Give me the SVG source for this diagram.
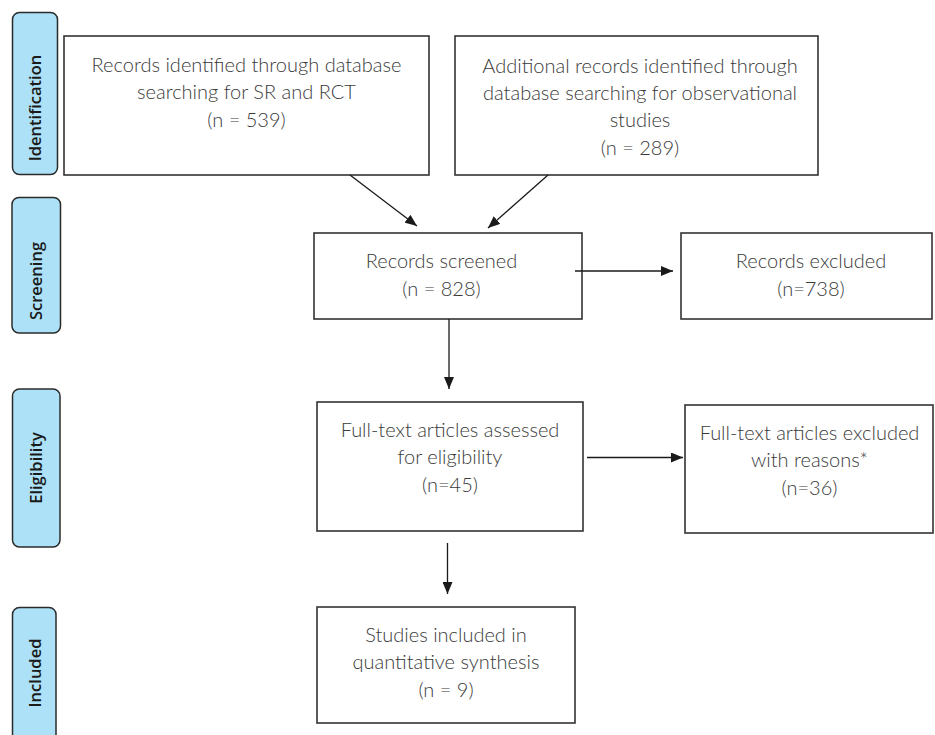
<svg xmlns="http://www.w3.org/2000/svg" width="935" height="735" viewBox="0 0 935 735">
<defs>
<marker id="ah" viewBox="0 0 12 10" refX="12" refY="5" markerWidth="12" markerHeight="10" markerUnits="userSpaceOnUse" orient="auto">
<path d="M0,0 L12,5 L0,10 z" fill="#1a1a1a"/>
</marker>
<style>
.box{fill:#fff;stroke:#333;stroke-width:1.6}
.stage{fill:#ade1f7;stroke:#2b2b2b;stroke-width:1.5}
.t{font-family:Lato,"Liberation Sans",sans-serif;font-size:20px;fill:#3a3a3a;text-anchor:middle;font-weight:300}
.s{font-family:"Open Sans","Liberation Sans",sans-serif;font-size:16.5px;font-weight:600;fill:#1a1a1a;text-anchor:middle}
.c{stroke:#1a1a1a;stroke-width:1.3;fill:none;marker-end:url(#ah)}
</style>
</defs>
<rect width="935" height="735" fill="#fff"/>
<g id="stage-identification"><rect class="stage" x="12.5" y="12.5" width="45" height="162" rx="7"/><text class="s" transform="translate(41,108) rotate(-90)">Identification</text></g>
<g id="stage-screening"><rect class="stage" x="12" y="197.5" width="48.5" height="135.5" rx="7"/><text class="s" transform="translate(42,281) rotate(-90)">Screening</text></g>
<g id="stage-eligibility"><rect class="stage" x="12.5" y="389" width="47.5" height="158" rx="7"/><text class="s" transform="translate(42,468) rotate(-90)">Eligibility</text></g>
<g id="stage-included"><rect class="stage" x="12.5" y="607.5" width="43.5" height="140" rx="7"/><text class="s" transform="translate(41,673) rotate(-90)">Included</text></g>
<g id="n-records-sr"><rect class="box" x="64" y="36" width="365" height="139"/><text class="t" x="246.5" y="72">Records identified through database</text><text class="t" x="246.5" y="99">searching for SR and RCT</text><text class="t" x="246.5" y="127">(n = 539)</text></g>
<g id="n-records-obs"><rect class="box" x="455" y="36" width="363" height="139"/><text class="t" x="640" y="73">Additional records identified through</text><text class="t" x="640" y="100">database searching for observational</text><text class="t" x="640" y="127">studies</text><text class="t" x="640" y="155">(n = 289)</text></g>
<g id="n-screened"><rect class="box" x="314" y="233" width="268" height="86"/><text class="t" x="441.5" y="268">Records screened</text><text class="t" x="441.5" y="296">(n = 828)</text></g>
<g id="n-excluded"><rect class="box" x="681" y="233" width="251" height="86"/><text class="t" x="811" y="268">Records excluded</text><text class="t" x="811" y="296">(n=738)</text></g>
<g id="n-fulltext"><rect class="box" x="317" y="402" width="266" height="129"/><text class="t" x="450" y="437">Full-text articles assessed</text><text class="t" x="450" y="464">for eligibility</text><text class="t" x="450" y="492">(n=45)</text></g>
<g id="n-ft-excluded"><rect class="box" x="685" y="405" width="248" height="128"/><text class="t" x="809.5" y="440">Full-text articles excluded</text><text class="t" x="809.5" y="467">with reasons*</text><text class="t" x="809.5" y="495">(n=36)</text></g>
<g id="n-included"><rect class="box" x="317" y="607" width="258" height="116"/><text class="t" x="446" y="642">Studies included in</text><text class="t" x="446" y="669">quantitative synthesis</text><text class="t" x="446" y="697">(n = 9)</text></g>
<g id="connectors">
<line class="c" x1="350" y1="175" x2="417" y2="226"/>
<line class="c" x1="548" y1="175" x2="488" y2="228"/>
<line class="c" x1="575" y1="271" x2="673" y2="271"/>
<line class="c" x1="449" y1="319" x2="449" y2="389"/>
<line class="c" x1="587" y1="457.5" x2="683" y2="457.5"/>
<line class="c" x1="447.5" y1="543" x2="447.5" y2="594"/>
</g>
</svg>
